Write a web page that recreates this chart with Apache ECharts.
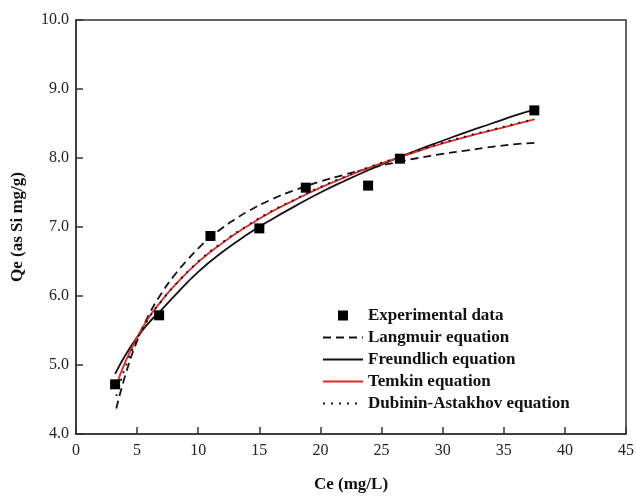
<!DOCTYPE html>
<html>
<head>
<meta charset="utf-8">
<script src="https://cdn.jsdelivr.net/npm/echarts@6/dist/echarts.min.js"></script>
<style>
html, body { margin: 0; padding: 0; background: #fff; }
#chart { width: 636px; height: 496px; }
</style>
</head>
<body>
<div id="chart"></div>
<script>
// experimental points
var expCe = [3.2, 6.8, 11.0, 15.0, 18.8, 23.9, 26.5, 37.5];
var expQe = [4.72, 5.72, 6.87, 6.98, 7.57, 7.60, 7.99, 8.69];

// fitted curves
var langCe = [3.3, 4, 5, 6, 7, 8, 9, 10, 11, 12, 13, 14, 16, 18, 20, 22, 24, 26, 28, 30, 32, 34, 36, 37.5];
var langQe = [4.37, 4.83, 5.35, 5.74, 6.04, 6.29, 6.50, 6.69, 6.85, 6.99, 7.11, 7.22, 7.40, 7.54, 7.66, 7.76, 7.85, 7.93, 8.00, 8.06, 8.11, 8.16, 8.20, 8.22];

var freuCe = [3.2, 4, 5, 6, 7, 8, 10, 12, 14, 16, 18, 20, 22, 24, 26, 28, 30, 32, 34, 36, 37.5];
var freuQe = [4.87, 5.13, 5.40, 5.62, 5.80, 5.99, 6.35, 6.64, 6.89, 7.11, 7.31, 7.50, 7.67, 7.83, 7.98, 8.12, 8.25, 8.38, 8.50, 8.62, 8.70];

var temkCe = [3.3, 4, 5, 6, 7, 8, 10, 12, 14, 16, 18, 20, 22, 24, 26, 28, 30, 32, 34, 36, 37.5];
var temkQe = [4.70, 5.03, 5.40, 5.70, 5.93, 6.14, 6.49, 6.77, 7.01, 7.22, 7.40, 7.57, 7.72, 7.86, 7.98, 8.10, 8.21, 8.31, 8.40, 8.49, 8.56];

var daCe = [3.3, 4, 5, 6, 7, 8, 10, 12, 14, 16, 18, 20, 22, 24, 26, 28, 30, 32, 34, 36, 37.5];
var daQe = [4.55, 4.95, 5.37, 5.69, 5.93, 6.14, 6.50, 6.78, 7.02, 7.23, 7.41, 7.58, 7.73, 7.87, 7.99, 8.11, 8.22, 8.32, 8.41, 8.50, 8.56];

var xTicks = [0, 45, 5];
var yTicks = [4, 10, 1];

function pairs(xs, ys) {
	return xs.map(function(x, i) { return [x, ys[i]]; });
}

var serif = "'Liberation Serif', 'Times New Roman', serif";
var axisColor = '#333';
var hideDot = { opacity: 0 };

var myChart = echarts.init(document.getElementById('chart'), null, { renderer: 'canvas' });

myChart.setOption({
	backgroundColor: '#fff',
	animation: false,
	grid: {
		left: 76, right: 10, top: 20, bottom: 62,
		show: true,
		borderColor: axisColor,
		borderWidth: 1.5,
		outerBoundsMode: 'none'
	},
	legend: {
		orient: 'vertical',
		left: 322,
		top: 307,
		padding: 0,
		itemWidth: 40,
		itemHeight: 10,
		itemGap: 5,
		symbolKeepAspect: true,
		textStyle: { fontFamily: serif, fontWeight: 'bold', fontSize: 17, color: '#111' },
		data: [
			{ name: 'Experimental data', icon: 'path://M0,0L10,0L10,10L0,10Z' },
			{ name: 'Langmuir equation', itemStyle: hideDot },
			{ name: 'Freundlich equation', itemStyle: hideDot },
			{ name: 'Temkin equation', itemStyle: hideDot },
			{ name: 'Dubinin-Astakhov equation', itemStyle: hideDot }
		]
	},
	xAxis: {
		type: 'value',
		min: xTicks[0], max: xTicks[1], interval: xTicks[2],
		name: 'Ce (mg/L)',
		nameLocation: 'middle',
		nameGap: 42,
		nameTextStyle: { fontFamily: serif, fontWeight: 'bold', fontSize: 17, color: '#111' },
		axisLine: { show: true, lineStyle: { color: axisColor, width: 1.5 } },
		axisTick: { show: true, inside: true, length: 7, lineStyle: { color: axisColor, width: 1.5 } },
		axisLabel: { fontFamily: serif, fontSize: 16, color: '#222', margin: 9 },
		splitLine: { show: false }
	},
	yAxis: {
		type: 'value',
		min: yTicks[0], max: yTicks[1], interval: yTicks[2],
		name: 'Qe (as Si mg/g)',
		nameLocation: 'middle',
		nameGap: 50,
		nameTextStyle: { fontFamily: serif, fontWeight: 'bold', fontSize: 17, color: '#111' },
		axisLine: { show: true, lineStyle: { color: axisColor, width: 1.5 } },
		axisTick: { show: true, inside: true, length: 7, lineStyle: { color: axisColor, width: 1.5 } },
		axisLabel: {
			fontFamily: serif, fontSize: 16, color: '#222', margin: 7,
			formatter: function(v) { return v.toFixed(1); }
		},
		splitLine: { show: false }
	},
	series: [{
		name: 'Langmuir equation',
		type: 'line',
		data: pairs(langCe, langQe),
		smooth: true,
		symbol: 'none',
		lineStyle: { color: '#111', width: 1.8, type: [8, 5] },
		itemStyle: { color: '#111' },
		z: 3
	}, {
		name: 'Freundlich equation',
		type: 'line',
		data: pairs(freuCe, freuQe),
		smooth: true,
		symbol: 'none',
		lineStyle: { color: '#111', width: 1.8 },
		itemStyle: { color: '#111' },
		z: 3
	}, {
		name: 'Temkin equation',
		type: 'line',
		data: pairs(temkCe, temkQe),
		smooth: true,
		symbol: 'none',
		lineStyle: { color: '#e8262a', width: 1.8 },
		itemStyle: { color: '#e8262a' },
		z: 4
	}, {
		name: 'Dubinin-Astakhov equation',
		type: 'line',
		data: pairs(daCe, daQe),
		smooth: true,
		symbol: 'none',
		lineStyle: { color: '#111', width: 1.8, type: [2, 6] },
		itemStyle: { color: '#111' },
		z: 5
	}, {
		name: 'Experimental data',
		type: 'scatter',
		data: pairs(expCe, expQe),
		symbol: 'rect',
		symbolSize: 10,
		itemStyle: { color: '#000', opacity: 1 },
		z: 6
	}]
});
</script>
</body>
</html>
